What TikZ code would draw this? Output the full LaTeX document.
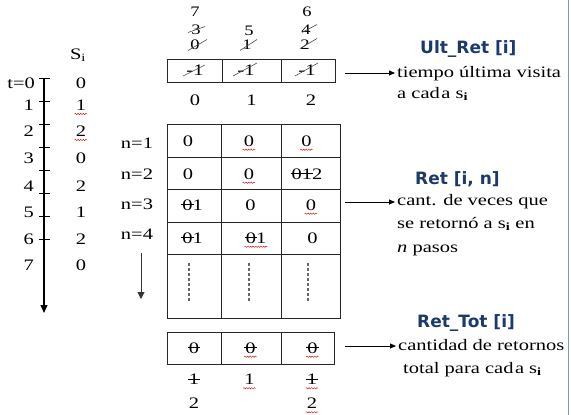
\documentclass[tikz,border=0pt]{standalone}
\usepackage{fontspec}
\setmainfont{Liberation Serif}[FakeStretch=1.28]
\newfontfamily\titlefont{DejaVu Sans}
\usetikzlibrary{arrows.meta,calc,decorations.pathmorphing}
\definecolor{navy}{HTML}{1B3A6B}
\definecolor{edgeblue}{HTML}{8A98AE}
\newsavebox\stbox
% horizontal strike-through of a short piece of text
\newcommand\hst[1]{\sbox\stbox{#1}\rlap{\kern-1pt\rule[0.33em]{\dimexpr\wd\stbox+2pt\relax}{0.6pt}}\usebox\stbox}

\begin{document}
\begin{tikzpicture}[x=1pt,y=-1pt,
  lbl/.style={inner sep=0pt, font=\fontsize{16}{19}\selectfont},
  stack/.style={inner sep=0pt, font=\fontsize{14.5}{15}\selectfont},
  txt/.style={inner sep=0pt, anchor=base west, font=\fontsize{16}{19}\selectfont},
  ttl/.style={inner sep=0pt, anchor=base west, text=navy, font=\titlefont\bfseries\fontsize{17}{20}\selectfont},
  boxline/.style={draw=black!85, line width=0.9pt},
  slash/.style={draw=black!70, line width=0.6pt},
  squig/.style={draw=red!85!black, line width=0.4pt, decorate,
                decoration={snake, amplitude=0.7pt, segment length=2.6pt}},
  ptr/.style={-{Triangle[length=6pt,width=5pt]}, line width=0.8pt},
  dots/.style={draw=black!60, line width=1.2pt, dash pattern=on 3.2pt off 1.8pt},
]
\useasboundingbox (0,0) rectangle (571,415);

% right margin rule
\draw[edgeblue, line width=0.9pt] (568,0) -- (568,415);

% ---------- time axis ----------
\coordinate (ax0) at (44,78);
\coordinate (ax1) at (44,313);
\draw[line width=1.2pt, -{Triangle[length=8pt,width=7pt]}] (ax0) -- (ax1);
\foreach \y in {78,101,124,147,170,193,216,239}
  \draw[line width=0.9pt] (39,\y) -- (50,\y);

\node[lbl, anchor=base east] (t0) at (35,88) {t=0};
\foreach \k/\y in {1/110,2/136,3/163,4/191,5/217,6/244,7/270}
  \node[lbl, anchor=base east] (t\k) at (34,\y) {\k};

\node[lbl] (shead) at (78,55) {S\textsubscript{i}};
\foreach \k/\v/\y in {0/0/88,1/1/110,2/2/136,3/0/163,4/2/191,5/1/217,6/2/244,7/0/270}
  \node[lbl, anchor=base] (s\k) at (81,\y) {\v};
\draw[squig] ($(s1.base west)+(-1,4)$) -- ($(s1.base east)+(1,4)$);
\draw[squig] ($(s2.base west)+(-1,4)$) -- ($(s2.base east)+(1,4)$);

% ---------- last visit array ----------
\node[stack] (u7) at (195,11.5) {7};
\node[stack] (u3) at (196,30) {3};
\node[stack] (u0) at (195,45) {0};
\node[stack] (u5) at (249,30.5) {5};
\node[stack] (u1) at (247,45) {1};
\node[stack] (u6) at (307,11.5) {6};
\node[stack] (u4) at (306,30) {4};
\node[stack] (u2) at (305,45) {2};
\draw[slash] ($(u3)+(-8,2.5)$) -- ($(u3)+(9,-3.5)$);
\draw[slash] ($(u0)+(-7,5.5)$) -- ($(u0)+(12,-5.5)$);
\draw[slash] ($(u1)+(-7,5.5)$) -- ($(u1)+(10,-5.5)$);
\draw[slash] ($(u4)+(-4,2.5)$) -- ($(u4)+(11,-5.5)$);
\draw[slash] ($(u2)+(-5,3.5)$) -- ($(u2)+(12,-6.5)$);

\draw[boxline] (167,59) rectangle (335,82);
\draw[boxline] (222,59) -- (222,82) (281,59) -- (281,82);
\node[lbl] (m0) at (195,70) {-1};
\node[lbl] (m1) at (246,70) {-1};
\node[lbl] (m2) at (307,70) {-1};
\draw[slash] ($(m0)+(-12,6)$) -- ($(m0)+(10,-5)$);
\draw[slash] ($(m1)+(-13,6)$) -- ($(m1)+(11,-7)$);
\draw[slash] ($(m2)+(-12,6)$) -- ($(m2)+(11,-7)$);

\node[lbl] (i0) at (195,100) {0};
\node[lbl] (i1) at (251.5,100) {1};
\node[lbl] (i2) at (311,100) {2};

% ---------- returns table ----------
\draw[boxline] (167,124) rectangle (340,318);
\draw[boxline] (221,124) -- (221,318) (281,124) -- (281,318);
\foreach \y in {157,189,222,254}
  \draw[boxline] (167,\y) -- (340,\y);

\foreach \k/\y in {1/148,2/179,3/209,4/239}
  \node[lbl, anchor=base] (n\k) at (137,\y) {n=\k};
\coordinate (nd0) at (141,253);
\coordinate (nd1) at (141,299);
\draw[black!80, line width=1pt, -{Triangle[length=7pt,width=7pt]}] (nd0) -- (nd1);

\node[lbl] (c11) at (188,141) {0};
\node[lbl] (c12) at (249,141) {0};
\node[lbl] (c13) at (306.5,141) {0};
\node[lbl] (c21) at (188,174) {0};
\node[lbl] (c22) at (249,174) {0};
\node[lbl] (c23) at (307,174) {\hst{01}2};
\node[lbl] (c31) at (192.5,205) {\hst{0}1};
\node[lbl] (c32) at (250.5,205) {0};
\node[lbl] (c33) at (311,205) {0};
\node[lbl] (c41) at (192.5,238) {\hst{0}1};
\node[lbl] (c42) at (256,238) {\hst{0}1};
\node[lbl] (c43) at (312.5,238) {0};
\foreach \c in {c12,c13,c22,c33,c42}
  \draw[squig] ($(\c.base west)+(-1,3.5)$) -- ($(\c.base east)+(1,3.5)$);

\foreach \x in {189,249,308}
  \draw[dots] (\x,263) -- (\x,302);

% ---------- total returns array ----------
\draw[boxline] (167,332) rectangle (334,364);
\draw[boxline] (221,332) -- (221,364) (281,332) -- (281,364);
\node[lbl] (r0) at (194,348) {\hst{0}};
\node[lbl] (r1) at (250.5,348) {\hst{0}};
\node[lbl] (r2) at (312.5,348) {\hst{0}};
\node[lbl] (b01) at (194,379.5) {\hst{1}};
\node[lbl] (b02) at (194,403.5) {2};
\node[lbl] (b11) at (249.5,379.5) {1};
\node[lbl] (b21) at (312,379.5) {\hst{1}};
\node[lbl] (b22) at (312,403.5) {2};
\foreach \c in {r1,r2,b11,b21,b22}
  \draw[squig] ($(\c.base west)+(-1,3.5)$) -- ($(\c.base east)+(1,3.5)$);

% ---------- captions ----------
\node[ttl] (h1) at (420,53) {Ult\_Ret [i]};
\node[txt] (d11) at (397,77) {tiempo última visita};
\node[txt] (d12) at (397,98) {a cad\kern1.5pt a s\textsubscript{\textbf{i}}};
\coordinate (p1a) at (345,73);
\coordinate (p1b) at (395,73);
\draw[ptr] (p1a) -- (p1b);

\node[ttl] (h2) at (415,184) {Ret [i, n]};
\node[txt] (d21) at (397,205) {cant. de veces que};
\node[txt] (d22) at (397,228) {se retornó a s\textsubscript{\textbf{i}} en};
\node[txt] (d23) at (397,252) {\textit{n} pasos};
\coordinate (p2a) at (345,202);
\coordinate (p2b) at (395,202);
\draw[ptr] (p2a) -- (p2b);

\node[ttl] (h3) at (417,327) {Ret\_Tot [i]};
\node[txt] (d31) at (398,350) {cantidad de retornos};
\node[txt] (d32) at (403,373) {total para cad\kern1.5pt a s\textsubscript{\textbf{i}}};
\coordinate (p3a) at (345,346);
\coordinate (p3b) at (396,346);
\draw[ptr] (p3a) -- (p3b);
\end{tikzpicture}
\end{document}
